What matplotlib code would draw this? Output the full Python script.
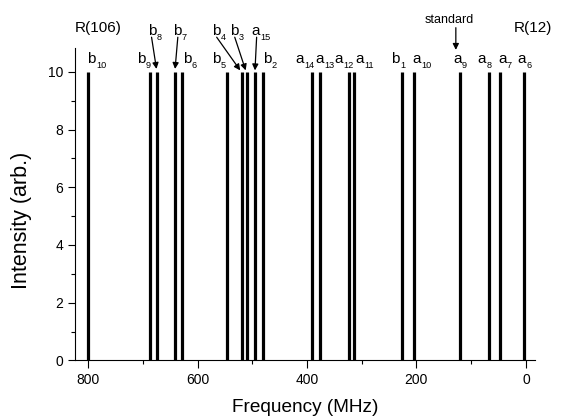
import matplotlib
matplotlib.use('Agg')
import matplotlib.pyplot as plt
from matplotlib.ticker import MultipleLocator

plt.rcParams['font.family'] = ['Liberation Sans', 'DejaVu Sans']

# line names and their frequencies (MHz), all drawn at intensity 10
names = ['b10', 'b9', 'b8', 'b7', 'b6', 'b5', 'b4', 'b3', 'a15', 'b2',
         'a14', 'a13', 'a12', 'a11', 'b1', 'a10', 'a9', 'a8', 'a7', 'a6']
freqs = [800, 687, 674, 641, 628, 547, 518, 509, 495, 481,
         390, 377, 323, 314, 226, 204, 120, 67, 48, 4]
intensity = [10] * len(freqs)

# label placement: (left x of label, row) ; row 0 = just above lines, row 1 = higher with arrow
label_pos = {
    'b10': (801, 0), 'b9': (711, 0), 'b8': (691, 1), 'b7': (645, 1), 'b6': (627, 0),
    'b5': (574, 0), 'b4': (574, 1), 'b3': (541, 1), 'a15': (502, 1), 'b2': (481, 0),
    'a14': (421, 0), 'a13': (385, 0), 'a12': (350, 0), 'a11': (312, 0), 'b1': (246, 0),
    'a10': (207, 0), 'a9': (133, 0), 'a8': (88, 0), 'a7': (51, 0), 'a6': (15, 0),
}
arrows = {
    'b8': ((684, 11.2), (675, 10.1)),
    'b7': ((636, 11.2), (641, 10.1)),
    'b4': ((565, 11.2), (522, 10.05)),
    'b3': ((532, 11.2), (512, 10.05)),
    'a15': ((492, 11.2), (495, 10.05)),
}

fig = plt.figure(figsize=(5.62, 4.2), dpi=100)
ax = fig.add_axes([0.1343, 0.142, 0.818, 0.744])

ax.vlines(freqs, 0, intensity, colors='black', linewidth=2.3)

row_y = {0: 10.3, 1: 11.28}
for n in names:
    x, row = label_pos[n]
    ax.text(x, row_y[row], n[0], ha='left', va='baseline', fontsize=11,
            clip_on=False)
    ax.annotate(n[1:], xy=(x, row_y[row]), xytext=(6.4, -3.4),
                textcoords='offset points', ha='left', va='baseline',
                fontsize=6.6, annotation_clip=False)

arrow_style = dict(arrowstyle='-|>', color='black', lw=0.9,
                   mutation_scale=9, shrinkA=0, shrinkB=0)
for n, (start, end) in arrows.items():
    ax.annotate('', xy=end, xytext=start, annotation_clip=False,
                arrowprops=arrow_style)

ax.text(824, 11.38, 'R(106)', ha='left', va='baseline', fontsize=11, clip_on=False)
ax.text(23, 11.38, 'R(12)', ha='left', va='baseline', fontsize=11, clip_on=False)
ax.text(140, 11.69, 'standard', ha='center', va='baseline', fontsize=9, clip_on=False)
ax.annotate('', xy=(128, 10.76), xytext=(128, 11.53), annotation_clip=False,
            arrowprops=arrow_style)

ax.set_xlim(823, -17)
ax.set_ylim(0, 10.83)
ax.xaxis.set_major_locator(MultipleLocator(200))
ax.xaxis.set_minor_locator(MultipleLocator(100))
ax.yaxis.set_major_locator(MultipleLocator(2))
ax.yaxis.set_minor_locator(MultipleLocator(1))
ax.tick_params(which='major', direction='out', length=5.4, width=0.8, labelsize=10)
ax.tick_params(which='minor', direction='out', length=3, width=0.8)
ax.spines['top'].set_visible(False)
ax.spines['right'].set_visible(False)
for s in ('left', 'bottom'):
    ax.spines[s].set_linewidth(0.8)

ax.set_xlabel('Frequency (MHz)', fontsize=13.7)
ax.set_ylabel('Intensity (arb.)', fontsize=15.5)
ax.xaxis.set_label_coords(0.5, -0.124)
ax.yaxis.set_label_coords(-0.095, 0.449)

fig.savefig('out.png', dpi=100)
